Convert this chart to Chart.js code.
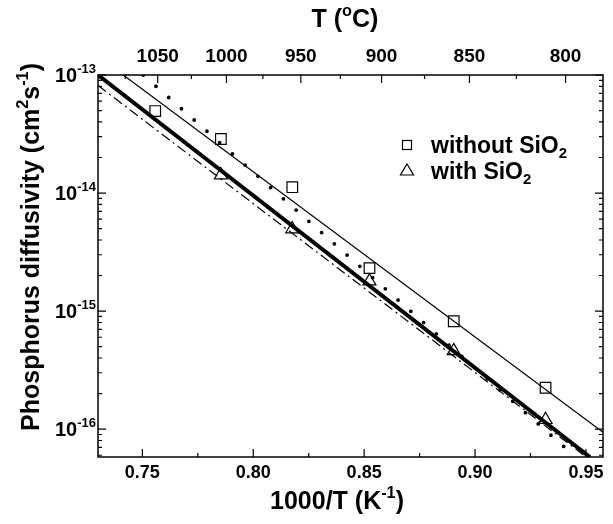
<!DOCTYPE html>
<html>
<head>
<meta charset="utf-8">
<script src="https://cdn.jsdelivr.net/npm/chart.js@4.4.1/dist/chart.umd.min.js"></script>
<style>
  body { margin: 0; background: #fff; }
</style>
</head>
<body>
<canvas id="myChart" width="613" height="524"></canvas>
<script>
// Ölçülen veriler (1000/T, difüzyon katsayısı)
const xWithout = [0.7558, 0.7854, 0.8176, 0.8524, 0.8904, 0.9318];
const dWithout = [4.95e-14, 2.87e-14, 1.12e-14, 2.31e-15, 8.2e-16, 2.24e-16];
const xWith = [0.7854, 0.8176, 0.8524, 0.8904, 0.9318];
const dWith = [1.42e-14, 4.95e-15, 1.79e-15, 4.6e-16, 1.2e-16];

// Çizgiler (iki uç nokta)
const fitThinX = [0.7414, 0.9577];
const fitThinD = [1.0e-13, 9.4e-17];
const fitThickX = [0.73, 0.9518];
const fitThickD = [1.0e-13, 5.8e-17];
const fitDotX = [0.7504, 0.9454];
const fitDotD = [1.0e-13, 5.8e-17];
const fitDashDotX = [0.73, 0.9501];
const fitDashDotD = [8.15e-14, 5.8e-17];

// Eksen etiketleri
const xMajor = [0.75, 0.80, 0.85, 0.90, 0.95];
const xMinor = [0.775, 0.825, 0.875, 0.925];
const tempMajor = [1050, 1000, 950, 900, 850, 800];
const tempMinor = [1075, 1025, 975, 925, 875, 825];
const yExponents = [-13, -14, -15, -16];

const FONT = '"Liberation Sans", Arial, sans-serif';
const toPts = (xs, ys) => xs.map((x, i) => ({ x: x, y: ys[i] }));
const invT = t => 1000 / (t + 273.15);

// Üst/alt simge içeren yazı
function richWidth(ctx, parts, size) {
    let w = 0;
    parts.forEach(p => {
        ctx.font = 'bold ' + (p[1] ? size * 0.65 : size) + 'px ' + FONT;
        w += ctx.measureText(p[0]).width;
    });
    return w;
}
function drawRich(ctx, parts, x, y, size, align) {
    const w = richWidth(ctx, parts, size);
    let cx = align === 'right' ? x - w : (align === 'center' ? x - w / 2 : x);
    ctx.textAlign = 'left';
    ctx.textBaseline = 'alphabetic';
    parts.forEach(p => {
        const s = p[1] ? size * 0.65 : size;
        ctx.font = 'bold ' + s + 'px ' + FONT;
        let dy = 0;
        if (p[1] === 1) dy = -size * 0.45;
        if (p[1] === -1) dy = size * 0.22;
        ctx.fillText(p[0], cx, y + dy);
        cx += ctx.measureText(p[0]).width;
    });
}

const decoPlugin = {
    id: 'deco',
    afterDraw(chart) {
        const ctx = chart.ctx;
        const a = chart.chartArea;
        const sx = chart.scales.x, sx2 = chart.scales.x2, sy = chart.scales.y;
        ctx.save();
        ctx.strokeStyle = '#000';
        ctx.fillStyle = '#000';
        ctx.lineWidth = 1.5;
        ctx.strokeRect(a.left, a.top, a.right - a.left, a.bottom - a.top);

        ctx.lineWidth = 1.2;
        ctx.beginPath();
        // alt eksen
        xMajor.forEach(v => { const p = sx.getPixelForValue(v); ctx.moveTo(p, a.bottom); ctx.lineTo(p, a.bottom - 8); });
        xMinor.forEach(v => { const p = sx.getPixelForValue(v); ctx.moveTo(p, a.bottom); ctx.lineTo(p, a.bottom - 4); });
        // üst eksen (sıcaklık)
        tempMajor.forEach(t => { const p = sx2.getPixelForValue(invT(t)); ctx.moveTo(p, a.top); ctx.lineTo(p, a.top + 8); });
        tempMinor.forEach(t => {
            const v = invT(t);
            if (v < sx2.min || v > sx2.max) return;
            const p = sx2.getPixelForValue(v); ctx.moveTo(p, a.top); ctx.lineTo(p, a.top + 4);
        });
        // y ekseni (sol ve sağ)
        for (let e = -17; e <= -13; e++) {
            for (let k = 1; k <= 9; k++) {
                const v = k * Math.pow(10, e);
                if (v < sy.min * 0.999 || v > sy.max * 1.001) continue;
                const p = sy.getPixelForValue(v);
                const len = k === 1 ? 8 : 4;
                ctx.moveTo(a.left, p); ctx.lineTo(a.left + len, p);
                ctx.moveTo(a.right, p); ctx.lineTo(a.right - len, p);
            }
        }
        ctx.stroke();

        // etiketler
        ctx.textAlign = 'center';
        ctx.textBaseline = 'middle';
        ctx.font = 'bold 18px ' + FONT;
        xMajor.forEach(v => ctx.fillText(v.toFixed(2), sx.getPixelForValue(v), a.bottom + 16));
        ctx.font = 'bold 19px ' + FONT;
        tempMajor.forEach(t => ctx.fillText(String(t), sx2.getPixelForValue(invT(t)), a.top - 18));
        yExponents.forEach(e => {
            drawRich(ctx, [['10', 0], [String(e), 1]], a.left - 2, sy.getPixelForValue(Math.pow(10, e)) + 7, 20, 'right');
        });

        // eksen başlıkları
        drawRich(ctx, [['1000/T (K', 0], ['-1', 1], [')', 0]], 337, 509, 25, 'center');
        drawRich(ctx, [['T (', 0], ['o', 1], ['C)', 0]], 345, 27, 25, 'center');
        ctx.save();
        ctx.translate(39, 247);
        ctx.rotate(-Math.PI / 2);
        drawRich(ctx, [['Phosphorus diffusivity (cm', 0], ['2', 1], ['s', 0], ['-1', 1], [')', 0]], 0, 0, 25, 'center');
        ctx.restore();

        // lejant
        ctx.lineWidth = 1.2;
        ctx.strokeRect(402.5, 140.5, 9, 9);
        ctx.beginPath();
        ctx.moveTo(407, 164); ctx.lineTo(413.5, 175); ctx.lineTo(400.5, 175); ctx.closePath();
        ctx.stroke();
        drawRich(ctx, [['without SiO', 0], ['2', -1]], 431, 153, 23, 'left');
        drawRich(ctx, [['with SiO', 0], ['2', -1]], 431, 179, 23, 'left');
        ctx.restore();
    }
};

const ctx = document.getElementById('myChart').getContext('2d');
const chart = new Chart(ctx, {
    type: 'scatter',
    data: {
        datasets: [
            {
                label: 'without SiO2',
                data: toPts(xWithout, dWithout),
                pointStyle: 'rect', pointRadius: 7.5, pointHoverRadius: 7.5,
                borderColor: '#000', backgroundColor: 'rgba(0,0,0,0)', borderWidth: 1.2
            },
            {
                label: 'with SiO2',
                data: toPts(xWith, dWith),
                pointStyle: 'triangle', pointRadius: 7.5, pointHoverRadius: 7.5,
                borderColor: '#000', backgroundColor: 'rgba(0,0,0,0)', borderWidth: 1.2
            },
            {
                type: 'line', label: 'fit without',
                data: toPts(fitThinX, fitThinD),
                borderColor: '#000', borderWidth: 1.2, pointRadius: 0, fill: false
            },
            {
                type: 'line', label: 'fit with',
                data: toPts(fitThickX, fitThickD),
                borderColor: '#000', borderWidth: 4, pointRadius: 0, fill: false
            },
            {
                type: 'line', label: 'dotted',
                data: toPts(fitDotX, fitDotD),
                borderColor: '#000', borderWidth: 3.8, borderDash: [0, 17], borderCapStyle: 'round',
                pointRadius: 0, fill: false
            },
            {
                type: 'line', label: 'dash-dot',
                data: toPts(fitDashDotX, fitDashDotD),
                borderColor: '#000', borderWidth: 1.2, borderDash: [10, 4, 2, 4],
                pointRadius: 0, fill: false
            }
        ]
    },
    options: {
        responsive: false,
        animation: false,
        devicePixelRatio: 1,
        layout: { padding: { left: 0, right: 10, top: 0, bottom: 0 } },
        plugins: { legend: { display: false }, tooltip: { enabled: false } },
        scales: {
            x: {
                type: 'linear', position: 'bottom', min: 0.73, max: 0.9577,
                grid: { display: false }, border: { display: false },
                ticks: { display: false },
                afterFit: s => { s.height = 67; }
            },
            x2: {
                type: 'linear', position: 'top', min: 0.73, max: 0.948,
                grid: { display: false }, border: { display: false },
                ticks: { display: false },
                afterFit: s => { s.height = 75; }
            },
            y: {
                type: 'logarithmic', min: 5.8e-17, max: 1e-13,
                grid: { display: false }, border: { display: false },
                ticks: { display: false },
                afterFit: s => { s.width = 98; }
            }
        }
    },
    plugins: [decoPlugin]
});
</script>
</body>
</html>
